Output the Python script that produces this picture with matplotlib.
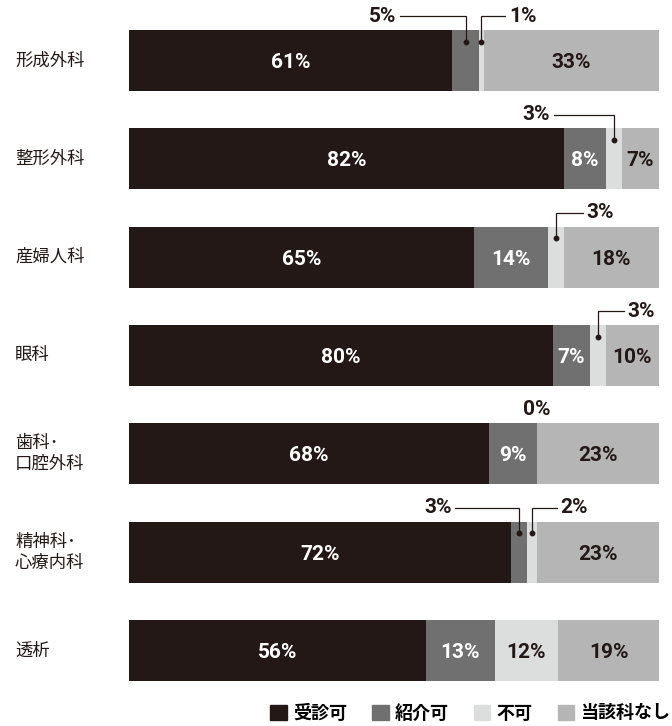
import matplotlib
matplotlib.use('Agg')
from matplotlib import pyplot as plt
from matplotlib.patches import Patch
import numpy as np

plt.rcParams['font.family'] = ['Noto Sans CJK JP', 'DejaVu Sans']

categories = ['形成外科', '整形外科', '産婦人科', '眼科', '歯科･\n口腔外科', '精神科･\n心療内科', '透析']
accept = [61, 82, 65, 80, 68, 72, 56]      # 受診可
referral = [5, 8, 14, 7, 9, 3, 13]         # 紹介可
refuse = [1, 3, 3, 3, 0, 2, 12]            # 不可
no_dept = [33, 7, 18, 10, 23, 23, 19]      # 当該科なし
series_names = ['受診可', '紹介可', '不可', '当該科なし']

colors = ['#231815', '#717071', '#dcdddd', '#b5b5b6']
text_colors = ['white', 'white', '#231815', '#231815']
min_inline = [7, 7, 10, 7]

# small values labelled outside: (row, series, side, line length in % units)
callouts = [
    (0, 1, 'left', 12.3), (0, 2, 'right', 4.5),
    (1, 2, 'left', 11.3),
    (2, 2, 'right', 5.1),
    (3, 2, 'right', 4.9),
    (5, 1, 'left', 11.9), (5, 2, 'right', 4.7),
]

NUM_FONT = 'Roboto'
NUM_SIZE = 15
DARK = '#231815'

fig = plt.figure(figsize=(6.72, 7.26), dpi=100)
ax = fig.add_axes([129 / 672, 0, 530 / 672, 1])
ax.set_xlim(0, 100)
ax.set_ylim(6.768, -0.615)
ax.axis('off')

y = np.arange(len(categories))
h = 0.62
data = [accept, referral, refuse, no_dept]
left = np.zeros(len(categories))
for s, vals in enumerate(data):
    vals = np.array(vals, dtype=float)
    ax.barh(y, vals, height=h, left=left, color=colors[s], linewidth=0)
    for i, v in enumerate(vals):
        if v >= min_inline[s]:
            ax.text(left[i] + v / 2, y[i] + 0.02, f'{int(v)}%', ha='center', va='center',
                    color=text_colors[s], fontsize=NUM_SIZE, fontweight='bold', family=NUM_FONT)
    left += vals

starts = np.cumsum([np.zeros(len(categories))] + [np.array(d, dtype=float) for d in data[:-1]], axis=0)

lab_dy = -0.31 - 0.14
dot_dy = -0.31 + 0.12
for row, s, side, ln in callouts:
    v = data[s][row]
    xc = starts[s][row] + v / 2
    ly = y[row] + lab_dy
    dy = y[row] + dot_dy
    xe = xc - ln if side == 'left' else xc + ln
    ax.plot([xc, xc, xe], [dy, ly, ly], color=DARK, lw=0.9, solid_joinstyle='miter')
    ax.plot([xc], [dy], marker='o', ms=3.2, color=DARK)
    if side == 'left':
        ax.text(xe - 0.7, ly, f'{v}%', ha='right', va='center', color=DARK,
                fontsize=NUM_SIZE, fontweight='bold', family=NUM_FONT)
    else:
        ax.text(xe + 0.7, ly, f'{v}%', ha='left', va='center', color=DARK,
                fontsize=NUM_SIZE, fontweight='bold', family=NUM_FONT)

# zero value shown above the bar without a leader line
for i in range(len(categories)):
    if refuse[i] == 0:
        ax.text(starts[2][i], y[i] + lab_dy, '0%', ha='center', va='center', color=DARK,
                fontsize=NUM_SIZE, fontweight='bold', family=NUM_FONT)

trans = matplotlib.transforms.blended_transform_factory(fig.transFigure, ax.transData)
for i, c in enumerate(categories):
    ax.text(15 / 672, y[i], c, transform=trans, ha='left', va='center',
            fontsize=12.5, color=DARK, linespacing=1.2)

handles = [Patch(color=c) for c in colors]
fig.legend(handles, series_names, loc='center right', bbox_to_anchor=(1.022, 13 / 726),
           ncol=4, frameon=False, handlelength=0.9, handleheight=0.9,
           handletextpad=0.35, columnspacing=1.4,
           prop={'family': ['Noto Sans CJK JP'], 'weight': 'bold', 'size': 13})

plt.savefig('out.png', dpi=100)
